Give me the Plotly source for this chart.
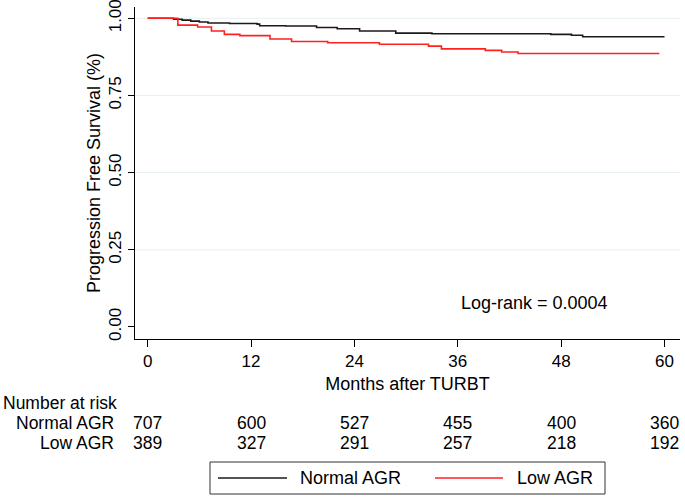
import plotly.graph_objects as go

# ---- data ----
normal_t = [0, 3.0, 4.0, 5.0, 6.0, 7.0, 9.5, 12.7, 13.0, 16.0, 19.6, 22.0, 24.6, 28.8, 33.0, 46.8, 49.2, 50.5, 60.0]
normal_s = [1.0, 0.997, 0.994, 0.991, 0.988, 0.985, 0.983, 0.981, 0.976, 0.975, 0.970, 0.966, 0.959, 0.952, 0.950, 0.948, 0.945, 0.940, 0.940]
low_t = [0, 3.5, 5.8, 7.4, 8.9, 10.7, 14.2, 16.7, 20.9, 26.9, 32.6, 34.1, 39.2, 41.1, 43.0, 59.4]
low_s = [1.0, 0.978, 0.972, 0.959, 0.948, 0.944, 0.933, 0.925, 0.921, 0.916, 0.910, 0.901, 0.896, 0.891, 0.886, 0.886]

x_ticks = [0, 12, 24, 36, 48, 60]
y_ticks = [0.0, 0.25, 0.5, 0.75, 1.0]
y_tick_labels = ["0.00", "0.25", "0.50", "0.75", "1.00"]
risk_normal = [707, 600, 527, 455, 400, 360]
risk_low = [389, 327, 291, 257, 218, 192]
series_names = ["Normal AGR", "Low AGR"]
series_colors = ["#1a1a1a", "#ff2020"]
logrank_text = "Log-rank = 0.0004"

FONT = "Liberation Sans, Arial, Helvetica, sans-serif"
W, H = 685, 500
L, R, T, B = 135, 5, 7, 161

def px(p):
    return (p - L) / (W - L - R)

def py(p):
    return (H - B - p) / (H - B - T)

fig = go.Figure()
fig.add_trace(go.Scatter(x=normal_t, y=normal_s, mode="lines", line=dict(color=series_colors[0], width=1.6, shape="hv"),
                         name=series_names[0], showlegend=False))
fig.add_trace(go.Scatter(x=low_t, y=low_s, mode="lines", line=dict(color=series_colors[1], width=1.6, shape="hv"),
                         name=series_names[1], showlegend=False))

shapes = []
# light gridlines
for v in y_ticks[1:]:
    shapes.append(dict(type="line", xref="paper", yref="y", x0=0, x1=1, y0=v, y1=v,
                       line=dict(color="#e6eff1", width=1), layer="below"))

tf = dict(size=18, color="black", family=FONT)
rf = dict(size=17.5, color="black", family=FONT)
annotations = []
annotations.append(dict(text=logrank_text, xref="paper", yref="paper", x=px(459), y=py(303), xanchor="left",
                        yanchor="middle", showarrow=False, font=tf))
# number at risk table
annotations.append(dict(text="Number at risk", xref="paper", yref="paper", x=px(1), y=py(403),
                        xanchor="left", yanchor="middle", showarrow=False, font=rf))
for name, counts, ypix in [(series_names[0], risk_normal, 423), (series_names[1], risk_low, 443)]:
    annotations.append(dict(text=name, xref="paper", yref="paper", x=px(116), y=py(ypix),
                            xanchor="right", yanchor="middle", showarrow=False, font=rf))
    for xt, c in zip(x_ticks, counts):
        annotations.append(dict(text=str(c), xref="x", yref="paper", x=xt, y=py(ypix),
                                xanchor="center", yanchor="middle", showarrow=False, font=rf))

# legend box (drawn)
shapes.append(dict(type="rect", xref="paper", yref="paper", x0=px(210), x1=px(605), y0=py(494), y1=py(462),
                   line=dict(color="#333333", width=1), fillcolor="white"))
leg = [(218, 287, 298), (435, 503, 515)]
for (x0, x1, xt), name, col in zip(leg, series_names, series_colors):
    shapes.append(dict(type="line", xref="paper", yref="paper", x0=px(x0), x1=px(x1), y0=py(478), y1=py(478),
                       line=dict(color=col, width=1.6)))
    annotations.append(dict(text=name, xref="paper", yref="paper", x=px(xt), y=py(478),
                            xanchor="left", yanchor="middle", showarrow=False, font=tf))

fig.update_layout(
    width=W, height=H,
    margin=dict(l=L, r=R, t=T, b=B, autoexpand=False),
    paper_bgcolor="white", plot_bgcolor="white",
    font=dict(family=FONT, size=18, color="black"),
    shapes=shapes, annotations=annotations,
    showlegend=False,
    xaxis=dict(range=[-1.475, 61.8], tickvals=x_ticks, ticks="outside", ticklen=7, tickwidth=1,
               tickcolor="black", showline=True, linecolor="black", linewidth=1, showgrid=False,
               zeroline=False, automargin=False,
               title=dict(text="Months after TURBT", standoff=6, font=dict(size=18)),
               tickfont=dict(size=17)),
    yaxis=dict(range=[-0.0389, 1.0366], tickvals=y_ticks, ticktext=y_tick_labels, tickangle=-90,
               ticks="outside", ticklen=6, tickwidth=1, tickcolor="black", showline=True,
               linecolor="black", linewidth=1, showgrid=False, zeroline=False, automargin=False,
               ticklabeloverflow="allow",
               title=dict(text="Progression Free Survival (%)", standoff=0, font=dict(size=18)),
               tickfont=dict(size=17)),
)

fig.write_html("out.html", config={"displayModeBar": False},
               post_script="document.body.style.margin='0px';")
